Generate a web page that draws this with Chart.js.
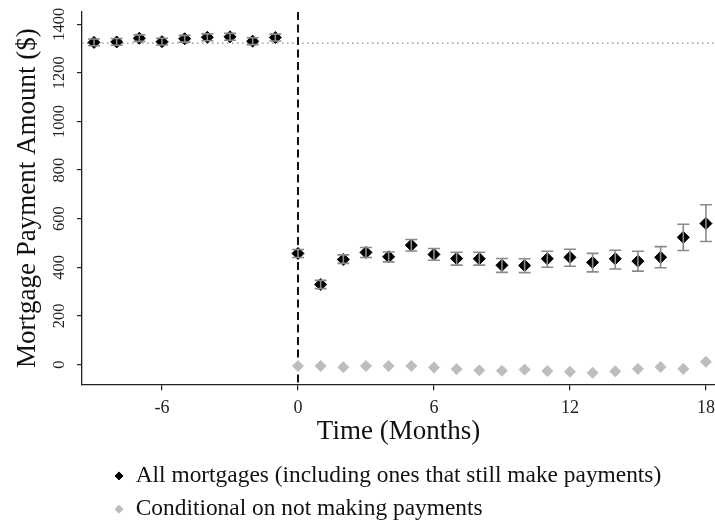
<!DOCTYPE html>
<html>
<head>
<meta charset="utf-8">
<script src="https://cdn.jsdelivr.net/npm/chart.js@4.4.0/dist/chart.umd.min.js"></script>
<style>
  html, body { margin: 0; padding: 0; background: #fff; }
  #wrap { width: 715px; height: 523px; }
</style>
</head>
<body>
<div id="wrap"><canvas id="scatter-chartcanvas"></canvas></div>
<script>
// months relative to the first missed payment
var allMonths = [-9, -8, -7, -6, -5, -4, -3, -2, -1, 0, 1, 2, 3, 4, 5, 6, 7, 8, 9, 10, 11, 12, 13, 14, 15, 16, 17, 18];
var allPayment = [1325, 1327, 1342, 1328, 1340, 1346, 1348, 1330, 1345, 457, 329, 432, 461, 443, 491, 453, 436, 435, 408, 407, 435, 441, 420, 435, 425, 441, 523, 580];
var allLow = [1311, 1313, 1329, 1314, 1326, 1332, 1334, 1316, 1331, 440, 312, 416, 440, 422, 467, 429, 409, 409, 379, 378, 400, 404, 381, 393, 384, 398, 469, 506];
var allHigh = [1339, 1341, 1356, 1342, 1354, 1360, 1362, 1344, 1359, 473, 346, 451, 481, 463, 514, 477, 462, 462, 436, 435, 466, 474, 457, 470, 466, 485, 577, 657];

var condMonths = [0, 1, 2, 3, 4, 5, 6, 7, 8, 9, 10, 11, 12, 13, 14, 15, 16, 17, 18];
var condPayment = [-6, -6, -11, -6, -6, -6, -12, -19, -24, -26, -21, -27, -30, -34, -28, -18, -10, -18, 11];

var baselineLevel = 1322;
var eventMonth = 0;

var xTicks = [-6, 0, 6, 12, 18];
var yTicks = [0, 200, 400, 600, 800, 1000, 1200, 1400];

Chart.defaults.font.family = "'Liberation Serif', 'Times New Roman', serif";
Chart.defaults.color = "#222";

function toPoints(xs, ys) {
  var pts = [];
  for (var i = 0; i < xs.length; i++) pts.push({ x: xs[i], y: ys[i] });
  return pts;
}

// dotted pre-period mean, dashed event line, and the error bars
var extras = {
  id: "extras",
  afterLayout: function (chart) {
    // indent the legend block like the original
    chart.legend.left = 104;
    chart.legend.top += 8;
  },
  beforeDatasetsDraw: function (chart) {
    var ctx = chart.ctx, a = chart.chartArea;
    var x = chart.scales.x, y = chart.scales.y;
    ctx.save();
    ctx.strokeStyle = "#888";
    ctx.lineWidth = 1.3;
    ctx.setLineDash([1.5, 3.5]);
    var yy = y.getPixelForValue(baselineLevel);
    ctx.beginPath();
    ctx.moveTo(a.left, yy);
    ctx.lineTo(a.right, yy);
    ctx.stroke();

    ctx.strokeStyle = "#111";
    ctx.lineWidth = 2;
    ctx.setLineDash([8, 4.5]);
    var xx = x.getPixelForValue(eventMonth);
    ctx.beginPath();
    ctx.moveTo(xx, a.top);
    ctx.lineTo(xx, a.bottom);
    ctx.stroke();
    ctx.restore();
  },
  afterDatasetsDraw: function (chart) {
    var ctx = chart.ctx;
    var x = chart.scales.x, y = chart.scales.y;
    ctx.save();
    ctx.strokeStyle = "#8a8a8a";
    ctx.lineWidth = 1.6;
    for (var i = 0; i < allMonths.length; i++) {
      var px = x.getPixelForValue(allMonths[i]);
      var lo = y.getPixelForValue(allLow[i]);
      var hi = y.getPixelForValue(allHigh[i]);
      ctx.beginPath();
      ctx.moveTo(px, lo); ctx.lineTo(px, hi);
      ctx.moveTo(px - 6, lo); ctx.lineTo(px + 6, lo);
      ctx.moveTo(px - 6, hi); ctx.lineTo(px + 6, hi);
      ctx.stroke();
    }
    ctx.restore();
  }
};

var data = {
  datasets: [
    {
      label: "All mortgages (including ones that still make payments)",
      data: toPoints(allMonths, allPayment),
      backgroundColor: "#000",
      borderColor: "#000",
      pointStyle: "rectRot",
      pointRadius: 6,
      showLine: false
    },
    {
      label: "Conditional on not making payments",
      data: toPoints(condMonths, condPayment),
      backgroundColor: "#bdbdbd",
      borderColor: "#bdbdbd",
      pointStyle: "rectRot",
      pointRadius: 5.5,
      showLine: false
    }
  ]
};

var options = {
  responsive: true,
  maintainAspectRatio: false,
  animation: false,
  layout: { autoPadding: false, padding: { top: 12, left: 0, right: 0, bottom: 0 } },
  plugins: {
    tooltip: { enabled: false },
    legend: {
      position: "bottom",
      align: "start",
      labels: {
        usePointStyle: true,
        boxWidth: 10,
        boxHeight: 5.66,
        padding: 10,
        color: "#111",
        font: { size: 23.4 }
      }
    }
  },
  scales: {
    x: {
      type: "linear",
      min: -9.53,
      max: 18.4,
      afterBuildTicks: function (scale) {
        scale.ticks = xTicks.map(function (v) { return { value: v }; });
      },
      afterFit: function (scale) {
        scale.height = 62;
        scale.paddingLeft = 0;
        scale.paddingRight = 0;
      },
      ticks: {
        font: { size: 18 },
        padding: 7,
        callback: function (v) { return String(v); }
      },
      grid: { drawOnChartArea: false, tickLength: 6, color: "#222", lineWidth: 1.2 },
      border: { color: "#222", width: 1.3 },
      title: {
        display: true,
        text: "Time (Months)",
        color: "#111",
        font: { size: 27 },
        padding: { top: 0, bottom: -2 }
      }
    },
    y: {
      type: "linear",
      min: -81,
      max: 1450,
      afterBuildTicks: function (scale) {
        scale.ticks = yTicks.map(function (v) { return { value: v }; });
      },
      afterFit: function (scale) {
        scale.width = 82;
        scale.paddingTop = 0;
        scale.paddingBottom = 0;
      },
      ticks: {
        font: { size: 16.5 },
        minRotation: 90,
        maxRotation: 90,
        crossAlign: "center",
        padding: 1,
        callback: function (v) { return String(v); }
      },
      grid: { drawOnChartArea: false, tickLength: 5, color: "#222", lineWidth: 1.2 },
      border: { color: "#222", width: 1.3 },
      title: {
        display: true,
        text: "Mortgage Payment Amount ($)",
        color: "#111",
        font: { size: 27 },
        padding: { top: 12, bottom: 0 }
      }
    }
  }
};

var chart = new Chart(document.getElementById("scatter-chartcanvas"), {
  type: "scatter",
  data: data,
  options: options,
  plugins: [extras]
});
</script>
</body>
</html>
